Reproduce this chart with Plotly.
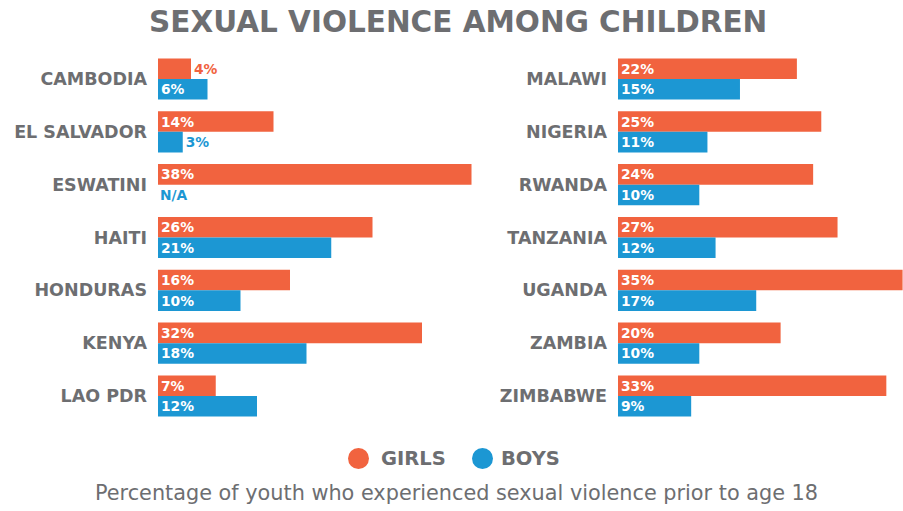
import plotly.graph_objects as go

# Survey results: share of youth reporting sexual violence before age 18 (%)
left_countries = ["CAMBODIA", "EL SALVADOR", "ESWATINI", "HAITI", "HONDURAS", "KENYA", "LAO PDR"]
left_girls = [4, 14, 38, 26, 16, 32, 7]
left_boys = [6, 3, None, 21, 10, 18, 12]

right_countries = ["MALAWI", "NIGERIA", "RWANDA", "TANZANIA", "UGANDA", "ZAMBIA", "ZIMBABWE"]
right_girls = [22, 25, 24, 27, 35, 20, 33]
right_boys = [15, 11, 10, 12, 17, 10, 9]

series_names = ["GIRLS", "BOYS"]

ORANGE = "#F1633F"
BLUE = "#1C97D3"
GRAY = "#6D6E71"
W, H = 903, 511

BOLD = "DejaVu Sans"
SMALL_BAR = 5  # bars narrower than this get their label outside


def labels(vals):
    return ["" if v is None else f"{v}%" for v in vals]


def positions(vals):
    return ["outside" if (v is not None and v < SMALL_BAR) else "inside" for v in vals]


def label_colors(vals, color):
    return [color if (v is not None and v < SMALL_BAR) else "white" for v in vals]


fig = go.Figure()

panels = [
    (left_countries, left_girls, left_boys, "x", "y"),
    (right_countries, right_girls, right_boys, "x2", "y2"),
]
for cats, girls, boys, xa, ya in panels:
    for name, vals, color in ((series_names[0], girls, ORANGE), (series_names[1], boys, BLUE)):
        fig.add_trace(go.Bar(
            name=name,
            y=cats,
            x=vals,
            orientation="h",
            marker=dict(color=color, line=dict(width=0)),
            text=labels(vals),
            textposition=positions(vals),
            insidetextanchor="start",
            textfont=dict(family=BOLD, size=13.8, color=label_colors(vals, color), weight="bold"),
            constraintext="none",
            cliponaxis=False,
            showlegend=False,
            hoverinfo="skip",
            xaxis=xa,
            yaxis=ya,
        ))

# No boys figure for Eswatini
fig.add_annotation(
    x=0, y="ESWATINI", xref="x", yref="y", text="<b>N/A</b>", showarrow=False,
    xanchor="left", yanchor="middle", xshift=0, yshift=-10,
    font=dict(family=BOLD, size=13.8, color=BLUE),
)

y_dom = [1 - 422.4 / H, 1 - 52.6 / H]
tick_font = dict(family=BOLD, size=17.5, color=GRAY, weight="bold")
axis_common = dict(showgrid=False, zeroline=False, showticklabels=False, showline=False, fixedrange=True)
y_common = dict(autorange="reversed", showgrid=False, zeroline=False, showline=False,
                tickfont=tick_font, ticks="", ticklabelstandoff=10)

fig.update_layout(
    width=W, height=H,
    margin=dict(l=0, r=0, t=0, b=0),
    paper_bgcolor="white", plot_bgcolor="white",
    barmode="group", bargap=0.22, bargroupgap=0,
    xaxis=dict(domain=[158 / W, 480 / W], range=[0, 322 / 8.25], **axis_common),
    xaxis2=dict(domain=[618 / W, 1], range=[0, 35.05], **axis_common),
    yaxis=dict(domain=y_dom, anchor="x", **y_common),
    yaxis2=dict(domain=y_dom, anchor="x2", **y_common),
    showlegend=False,
)

# Title
fig.add_annotation(
    x=458 / W, y=1 - 22 / H, xref="paper", yref="paper", showarrow=False,
    text="<b>SEXUAL VIOLENCE AMONG CHILDREN</b>",
    font=dict(family=BOLD, size=29.5, color=GRAY), xanchor="center", yanchor="middle",
)

# Legend: coloured dots with series names
legend_items = [(358.5, ORANGE, series_names[0], 379), (482.5, BLUE, series_names[1], 499)]
cy = 458.5
for cx, color, name, tx in legend_items:
    fig.add_shape(
        type="circle", xref="paper", yref="paper",
        x0=(cx - 10.5) / W, x1=(cx + 10.5) / W,
        y0=1 - (cy + 10.5) / H, y1=1 - (cy - 10.5) / H,
        fillcolor=color, line=dict(width=0),
    )
    fig.add_annotation(
        x=tx / W, y=1 - cy / H, xref="paper", yref="paper", showarrow=False,
        text=f"<b>{name}</b>", xanchor="left", yanchor="middle",
        font=dict(family=BOLD, size=19.5, color=GRAY),
    )

# Caption
fig.add_annotation(
    x=457 / W, y=1 - 493 / H, xref="paper", yref="paper", showarrow=False,
    text="Percentage of youth who experienced sexual violence prior to age 18",
    xanchor="center", yanchor="middle",
    font=dict(family="DejaVu Sans", size=20.8, color=GRAY),
)

fig.write_html("out.html")
